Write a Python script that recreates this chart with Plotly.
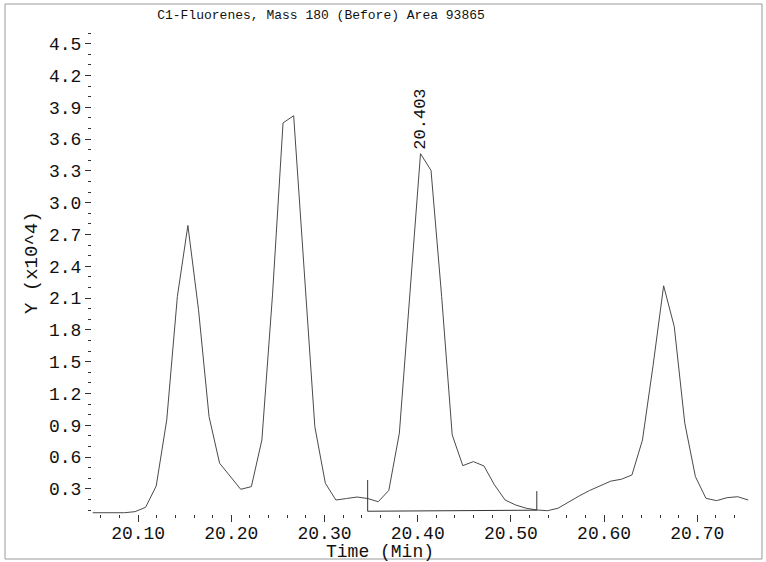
import plotly.graph_objects as go

# ---- data ----
time_min = [20.0513, 20.0627, 20.0740, 20.0853, 20.0967, 20.1080, 20.1194, 20.1307,
            20.1421, 20.1534, 20.1648, 20.1761, 20.1874, 20.1988, 20.2101, 20.2215,
            20.2328, 20.2442, 20.2555, 20.2669, 20.2782, 20.2896, 20.3009, 20.3122,
            20.3236, 20.3349, 20.3463, 20.3576, 20.3690, 20.3803, 20.3917, 20.4030,
            20.4143, 20.4257, 20.4370, 20.4484, 20.4597, 20.4711, 20.4824, 20.4938,
            20.5051, 20.5165, 20.5278, 20.5391, 20.5505, 20.5618, 20.5732, 20.5845,
            20.5959, 20.6072, 20.6186, 20.6299, 20.6412, 20.6526, 20.6639, 20.6753,
            20.6866, 20.6980, 20.7093, 20.7207, 20.7320, 20.7434, 20.7547]
intensity_e4 = [0.076, 0.076, 0.076, 0.076, 0.086, 0.127, 0.328, 0.951,
                2.115, 2.785, 1.990, 0.982, 0.543, 0.418, 0.297, 0.322,
                0.762, 2.130, 3.752, 3.820, 2.350, 0.888, 0.354, 0.196,
                0.210, 0.224, 0.210, 0.180, 0.286, 0.826, 2.150, 3.462,
                3.304, 2.115, 0.810, 0.520, 0.558, 0.517, 0.338, 0.196,
                0.149, 0.118, 0.102, 0.095, 0.118, 0.177, 0.234, 0.286,
                0.333, 0.374, 0.392, 0.432, 0.762, 1.467, 2.216, 1.832,
                0.920, 0.416, 0.212, 0.190, 0.218, 0.227, 0.196]

peak_time = 20.403
peak_value = 3.462
peak_label = "20.403"

baseline_time = [20.3463, 20.5278]
baseline_value = [0.090, 0.100]
marker_top = [0.385, 0.280]

title_text = "C1-Fluorenes, Mass 180 (Before) Area 93865"
x_title = "Time (Min)"
y_title = "Y (x10^4)"

x_range = [20.0505, 20.7555]
y_range = [0.064, 4.6]

W, H = 766, 562
ML, MR, MT, MB = 92, 17, 33, 48
PW, PH = W - ML - MR, H - MT - MB


def px_to_paper_x(px):
    return (px - ML) / PW


def px_to_paper_y(py):
    return (H - MB - py) / PH


MONO = "Liberation Mono, DejaVu Sans Mono, monospace"

fig = go.Figure()
fig.add_trace(go.Scatter(x=time_min, y=intensity_e4, mode="lines",
                         line=dict(color="#4a4a4a", width=1), showlegend=False,
                         hoverinfo="skip"))
# integration baseline and start/end markers
fig.add_trace(go.Scatter(x=baseline_time, y=baseline_value, mode="lines",
                         line=dict(color="#333333", width=1), showlegend=False))
for t, b, top in zip(baseline_time, baseline_value, marker_top):
    fig.add_trace(go.Scatter(x=[t, t], y=[b, top], mode="lines",
                             line=dict(color="#333333", width=1), showlegend=False))

fig.add_annotation(x=peak_time, y=peak_value, text=peak_label, textangle=-90,
                   showarrow=False, xanchor="center", yanchor="bottom", yshift=2,
                   font=dict(family=MONO, size=17, color="#111111"))

fig.add_annotation(xref="paper", yref="paper", x=px_to_paper_x(380),
                   y=px_to_paper_y(552), text=x_title, showarrow=False,
                   xanchor="center", yanchor="middle",
                   font=dict(family=MONO, size=18, color="#111111"))
fig.add_annotation(xref="paper", yref="paper", x=px_to_paper_x(32),
                   y=px_to_paper_y(263), text=y_title, showarrow=False,
                   textangle=-90, xanchor="center", yanchor="middle",
                   font=dict(family=MONO, size=19, color="#111111"))

# outer frame
fig.add_shape(type="rect", xref="paper", yref="paper",
              x0=px_to_paper_x(5), x1=px_to_paper_x(762),
              y0=px_to_paper_y(559), y1=px_to_paper_y(4),
              line=dict(color="#9a9a9a", width=1), fillcolor="rgba(0,0,0,0)")

fig.update_layout(
    width=W, height=H,
    margin=dict(l=ML, r=MR, t=MT, b=MB),
    paper_bgcolor="white", plot_bgcolor="white",
    title=dict(text=title_text, x=321 / W, xref="container", xanchor="center",
               y=1 - 14 / H, yref="container", yanchor="middle",
               font=dict(family=MONO, size=13, color="#111111")),
)
fig.update_xaxes(range=x_range, showgrid=False, zeroline=False, showline=False,
                 ticks="outside", ticklen=7, tickcolor="#333333", tickwidth=1,
                 tick0=20.0, dtick=0.1, tickformat=".2f", ticklabelstandoff=-5,
                 tickfont=dict(family=MONO, size=18, color="#111111"),
                 minor=dict(ticks="outside", ticklen=3, dtick=0.02, tick0=20.0,
                            tickcolor="#333333", showgrid=False))
fig.update_yaxes(range=y_range, showgrid=False, zeroline=False, showline=False,
                 ticks="outside", ticklen=6, tickcolor="#333333", tickwidth=1,
                 tick0=0, dtick=0.3, tickformat=".1f", ticklabelstandoff=0,
                 tickfont=dict(family=MONO, size=18, color="#111111"),
                 minor=dict(ticks="outside", ticklen=3, dtick=0.1, tick0=0,
                            tickcolor="#333333", showgrid=False))

fig.write_html("out.html", config={"displayModeBar": False}, post_script=(
    "document.body.style.margin='0px';"
    "document.body.style.padding='0px';"
    "document.body.style.overflow='hidden';"))
